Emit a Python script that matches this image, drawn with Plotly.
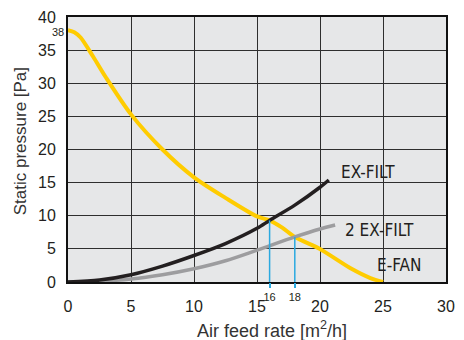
import plotly.graph_objects as go

# Fan characteristic and filter resistance curves
fan_x = [0, 0.5, 1, 2, 3, 5, 7.5, 10, 12.5, 15, 16, 17, 18, 20, 21, 22.5, 24, 25]
fan_y = [38, 37.7, 36.9, 34.0, 30.9, 25.3, 20.0, 15.8, 12.7, 9.9, 9.3, 8.2, 6.8, 5.0, 3.8, 2.0, 0.6, 0]

filt_x = [0, 2.5, 5, 7.5, 10, 12.5, 15, 16, 18, 20, 20.7]
filt_y = [0, 0.3, 1.1, 2.4, 4.0, 5.8, 8.1, 9.3, 11.6, 14.3, 15.4]

filt2_x = [0, 2.5, 5, 7.5, 10, 12.5, 15, 18, 20, 21.2]
filt2_y = [0, 0.12, 0.45, 1.1, 2.0, 3.2, 4.8, 6.8, 8.0, 8.6]

# Operating points (intersection of fan and filter curves)
op_x = [16, 18]
op_y = [9.3, 6.8]
op_labels = ["16", "18"]

x_ticks = [0, 5, 10, 15, 20, 25, 30]
y_ticks = [0, 5, 10, 15, 20, 25, 30, 35, 40]

YELLOW = "#FFCC00"
BLACK = "#231F20"
GREY = "#9D9D9F"
BLUE = "#2AA9E0"
TXT = "#231F20"
FONT = "Liberation Sans, Arial, Helvetica, sans-serif"
NARROW = "Liberation Sans Narrow, Arial Narrow, DejaVu Sans Condensed, sans-serif"

fig = go.Figure()

fig.add_trace(go.Scatter(x=fan_x, y=fan_y, mode="lines",
                         line=dict(color=YELLOW, width=4, shape="spline", smoothing=0.8),
                         hoverinfo="skip"))
fig.add_trace(go.Scatter(x=filt2_x, y=filt2_y, mode="lines",
                         line=dict(color=GREY, width=3.5, shape="spline", smoothing=0.8),
                         hoverinfo="skip"))
fig.add_trace(go.Scatter(x=filt_x, y=filt_y, mode="lines",
                         line=dict(color=BLACK, width=3.5, shape="spline", smoothing=0.8),
                         hoverinfo="skip"))
# invisible trace to activate the secondary x axis carrying the operating-point ticks
fig.add_trace(go.Scatter(x=op_x, y=[0, 0], xaxis="x2", mode="markers",
                         marker=dict(opacity=0), hoverinfo="skip"))

# vertical drop lines from the operating points
for xv, yv in zip(op_x, op_y):
    fig.add_shape(type="line", xref="x", yref="y", x0=xv, x1=xv, y0=0, y1=yv,
                  line=dict(color=BLUE, width=1.5), layer="above")

# curve names
fig.add_annotation(x=21.5, y=16.6, xref="x", yref="y", text="EX-FILT", showarrow=False,
                   xanchor="left", yanchor="middle", font=dict(family=NARROW, size=17, color=TXT))
fig.add_annotation(x=21.8, y=7.8, xref="x", yref="y", text="2 EX-FILT", showarrow=False,
                   xanchor="left", yanchor="middle", font=dict(family=NARROW, size=17, color=TXT))
fig.add_annotation(x=24.4, y=2.6, xref="x", yref="y", text="E-FAN", showarrow=False,
                   xanchor="left", yanchor="middle", font=dict(family=NARROW, size=17, color=TXT))

# shut-off pressure label
fig.add_annotation(x=0, y=fan_y[0], xref="x", yref="y", text=f"{fan_y[0]:g}", showarrow=False,
                   xanchor="right", yanchor="middle", xshift=-2, yshift=-2,
                   font=dict(family=FONT, size=11, color=TXT))

# axis titles
fig.add_annotation(x=0.54, y=-0.18, xref="paper", yref="paper",
                   text="Air feed rate [m<sup>2</sup>/h]", showarrow=False,
                   xanchor="center", yanchor="middle", font=dict(family=FONT, size=18, color="#333333"))
fig.add_annotation(x=-0.125, y=0.53, xref="paper", yref="paper",
                   text="Static pressure [Pa]", showarrow=False, textangle=-90,
                   xanchor="center", yanchor="middle", font=dict(family=FONT, size=17, color="#333333"))

fig.update_layout(
    width=464, height=340,
    margin=dict(l=68, r=9, t=16, b=58),
    paper_bgcolor="white",
    plot_bgcolor="#E6E7E8",
    showlegend=False,
    xaxis=dict(range=[0, 30], tickvals=x_ticks, ticktext=[str(v) for v in x_ticks],
               showgrid=True, gridcolor="#2E2E2E", gridwidth=1.3,
               showline=True, linecolor="#111111", linewidth=2, mirror=True,
               zeroline=False, ticks="", ticklabelstandoff=9,
               tickfont=dict(family=FONT, size=16, color=TXT)),
    xaxis2=dict(range=[0, 30], overlaying="x", anchor="y", side="bottom",
                tickvals=op_x, ticktext=op_labels, ticks="outside", ticklen=5,
                tickcolor=BLUE, tickwidth=1.5, showgrid=False, showline=False,
                zeroline=False, tickfont=dict(family=FONT, size=11, color=TXT)),
    yaxis=dict(range=[0, 40], tickvals=y_ticks, ticktext=[str(v) for v in y_ticks],
               showgrid=True, gridcolor="#2E2E2E", gridwidth=1.3,
               showline=True, linecolor="#111111", linewidth=2, mirror=True,
               zeroline=False, ticks="", ticklabelstandoff=7,
               tickfont=dict(family=FONT, size=16, color=TXT)),
)

fig.write_html("out.html")
